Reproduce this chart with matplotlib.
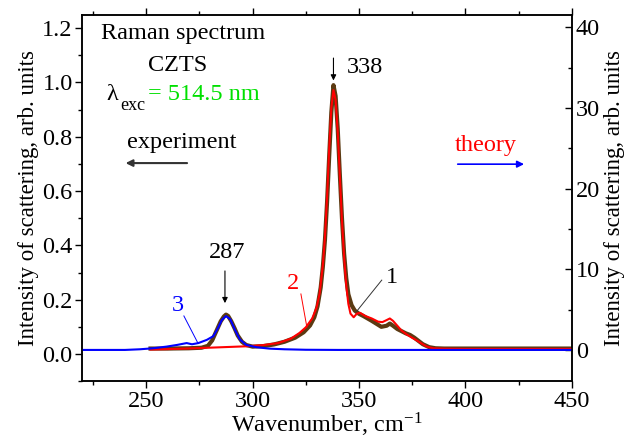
import matplotlib
matplotlib.use('Agg')
import matplotlib.pyplot as plt
from matplotlib.ticker import MultipleLocator

plt.rcParams['font.family'] = 'Liberation Serif'
plt.rcParams['mathtext.fontset'] = 'stix'

# curve 1: experiment (left axis)
w_exp = [252, 260, 270, 276, 279, 281, 283, 285, 286.5, 287.5, 288.5, 290, 291.5, 293, 295, 297, 300,
         305, 310, 315, 320, 324, 327, 329, 330.5, 332, 333, 334, 335, 336, 337, 338, 339, 340, 341,
         342, 343, 344, 345, 346.5, 348, 350, 352, 356, 360.5, 363, 364.5, 366, 368, 372, 374, 376,
         378, 380, 383, 386, 390, 450]
i_exp = [0.02, 0.02, 0.021, 0.023, 0.03, 0.05, 0.085, 0.12, 0.138, 0.145, 0.14, 0.12, 0.095, 0.068,
         0.045, 0.033, 0.027, 0.029, 0.035, 0.045, 0.06, 0.08, 0.105, 0.135, 0.175, 0.245, 0.32, 0.42,
         0.56, 0.73, 0.89, 0.99, 0.95, 0.83, 0.66, 0.5, 0.37, 0.28, 0.22, 0.18, 0.16, 0.148, 0.14,
         0.122, 0.10, 0.104, 0.112, 0.104, 0.092, 0.076, 0.07, 0.06, 0.048, 0.036, 0.025, 0.021, 0.02,
         0.02]

# curve 2: theory (right axis)
w_th = [252, 260, 270, 280, 290, 297, 305, 312, 318, 322, 325, 328, 330, 331.5, 333, 334, 335, 336, 337,
        338, 339, 340, 341, 342, 343, 344, 345, 346, 347.5, 349, 350.5, 353, 356, 359, 361, 363, 364.5,
        366, 368, 370, 372.5, 375, 377, 380, 382, 385, 390, 400, 450]
i_th = [0.05, 0.1, 0.18, 0.28, 0.38, 0.45, 0.6, 0.85, 1.4, 2.1, 2.8, 3.9, 5.2, 7.0, 10.5, 14, 19, 25,
        30, 32.2, 31, 27, 21.5, 16, 11.5, 8.0, 5.7, 4.5, 4.05, 4.5, 4.6, 4.2, 3.9, 3.5, 3.45, 3.7,
        3.9, 3.6, 3.0, 2.4, 1.9, 1.5, 1.2, 0.7, 0.4, 0.2, 0.15, 0.12, 0.12]

# curve 3: theory (right axis)
w_3 = [220, 240, 247, 253, 259.5, 264.5, 269, 271.5, 274.5, 278.5, 281.5, 283.5, 285.5, 287.5, 289.5,
       291.5, 294, 297, 302, 308, 315, 325, 340, 450]
i_3 = [0, 0, 0.08, 0.2, 0.41, 0.62, 0.85, 0.7, 0.85, 1.25, 1.7, 2.6, 3.7, 4.2, 3.8, 2.6, 1.3, 0.62,
       0.33, 0.16, 0.08, 0.02, 0, 0]

fs = 17.5

fig, ax = plt.subplots(figsize=(6.29, 4.44), dpi=100)
fig.subplots_adjust(left=0.131, right=0.909, top=0.966, bottom=0.141)
ax2 = ax.twinx()
ax2.set_zorder(ax.get_zorder() + 1)
ax2.patch.set_visible(False)

ax.plot(w_exp, i_exp, color='#5b3a12', lw=3)
ax2.plot(w_th, i_th, color='red', lw=1.5)
ax2.plot(w_3, i_3, color='blue', lw=1.5)

ax.set_xlim(220, 450)
ax.set_ylim(-0.101, 1.248)
ax2.set_ylim(-3.9, 41.5)

ax.xaxis.set_major_locator(MultipleLocator(50))
ax.xaxis.set_minor_locator(MultipleLocator(25))
ax.yaxis.set_major_locator(MultipleLocator(0.2))
ax.yaxis.set_minor_locator(MultipleLocator(0.1))
ax.yaxis.set_major_formatter(plt.FormatStrFormatter('%.1f'))
ax2.yaxis.set_major_locator(MultipleLocator(10))
ax2.yaxis.set_minor_locator(MultipleLocator(5))

ax.tick_params(axis='both', which='major', labelsize=fs, direction='out', length=5, width=1, pad=2)
ax.tick_params(axis='both', which='minor', direction='out', length=3, width=1)
ax.tick_params(axis='x', top=True, which='both')
ax.tick_params(axis='y', right=False, which='both')
ax2.tick_params(axis='y', which='major', labelsize=fs, direction='in', length=5, width=1, pad=3)
ax2.tick_params(axis='y', which='minor', direction='in', length=3, width=1)
for a in (ax, ax2):
    for s in a.spines.values():
        s.set_linewidth(1.1)

ax.set_xlabel('Wavenumber, cm$^{\\mathregular{-1}}$', fontsize=fs, labelpad=-1)
ax.set_ylabel('Intensity of scattering, arb. units', fontsize=16.5, labelpad=2)
ax2.set_ylabel('Intensity of scattering, arb. units', fontsize=16.5, labelpad=3)

# text block
ax.text(267.2, 1.181, 'Raman spectrum', fontsize=fs, ha='center', va='center')
ax.text(264.9, 1.064, 'CZTS', fontsize=fs, ha='center', va='center')
ax.text(231.5, 0.955, 'λ', fontsize=fs, ha='left', va='center')
ax.text(238.0, 0.915, 'exc', fontsize=13, ha='left', va='center')
ax.text(250.8, 0.955, '= 514.5 nm', fontsize=fs, ha='left', va='center', color='#00e000')
ax.text(266.8, 0.777, 'experiment', fontsize=fs, ha='center', va='center')
ax.annotate('', xy=(239.0, 0.703), xytext=(270.5, 0.703),
            arrowprops=dict(arrowstyle='-|>', color='#333333', lw=1.5, mutation_scale=10))
ax.text(409.6, 0.769, 'theory', fontsize=fs, ha='center', va='center', color='red')
ax.annotate('', xy=(428.9, 0.699), xytext=(395.1, 0.699),
            arrowprops=dict(arrowstyle='-|>', color='blue', lw=1.2, mutation_scale=10))

# peak markers
ax.text(352.8, 1.056, '338', fontsize=fs, ha='center', va='center')
ax.annotate('', xy=(338, 0.997), xytext=(338, 1.10),
            arrowprops=dict(arrowstyle='-|>', color='black', lw=0.8, mutation_scale=8))
ax.text(287.9, 0.375, '287', fontsize=fs, ha='center', va='center')
ax.annotate('', xy=(287, 0.177), xytext=(287, 0.316),
            arrowprops=dict(arrowstyle='-|>', color='black', lw=0.8, mutation_scale=8))

# curve numbers
ax.text(365.6, 0.283, '1', fontsize=fs, ha='center', va='center')
ax.plot([360.7, 349.0], [0.272, 0.158], color='#333333', lw=0.7)
ax.text(318.9, 0.261, '2', fontsize=fs, ha='center', va='center', color='red')
ax.plot([322.7, 325.5], [0.221, 0.099], color='red', lw=0.7)
ax.text(264.9, 0.180, '3', fontsize=fs, ha='center', va='center', color='blue')
ax.plot([267.7, 274.3], [0.14, 0.04], color='blue', lw=0.7)

fig.savefig('out.png', dpi=100)
